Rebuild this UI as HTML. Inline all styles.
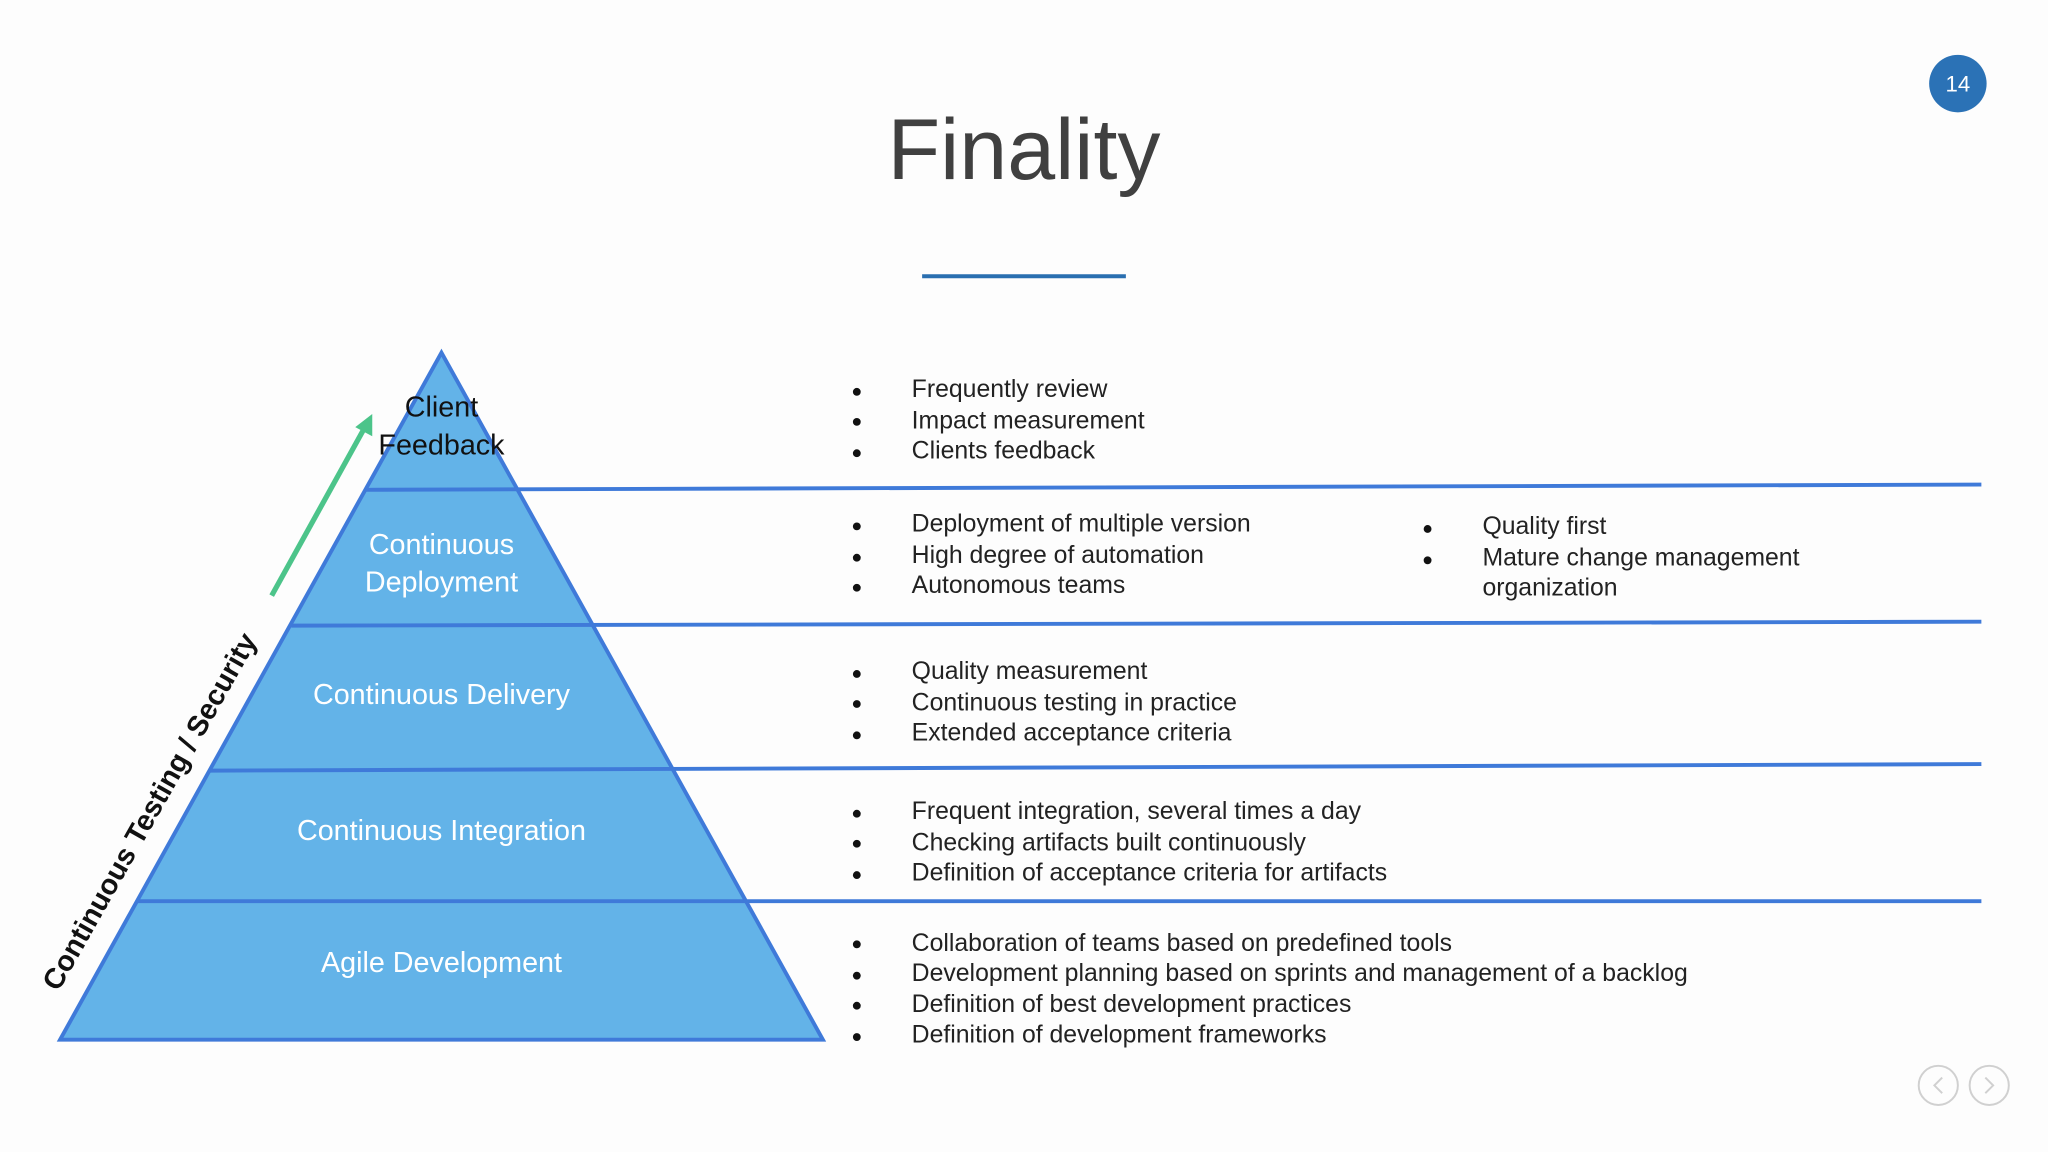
<!DOCTYPE html>
<html><head><meta charset="utf-8"><style>
html,body{margin:0;padding:0;background:#fff;}
svg{display:block;}
text{font-family:"Liberation Sans",sans-serif;}
</style></head><body>
<svg width="2048" height="1152" viewBox="0 0 1568 882" xmlns="http://www.w3.org/2000/svg">
<rect width="1568" height="882" fill="#fdfdfd"/>
<text x="784" y="137" font-size="66" fill="#404040" text-anchor="middle">Finality</text>
<line x1="706" y1="211.5" x2="862" y2="211.5" stroke="#2a6fb0" stroke-width="3"/>
<circle cx="1499" cy="64" r="22" fill="#2b72b6"/>
<text x="1499" y="70" font-size="17" fill="#fff" text-anchor="middle">14</text>

<polygon points="338,270 630,796 46,796" fill="#63b3e8" stroke="#3f7ad9" stroke-width="3" stroke-linejoin="miter"/>
<g stroke="#3f7ad9" stroke-width="3">
<line x1="280" y1="375" x2="1517" y2="371"/>
<line x1="223" y1="479" x2="1517" y2="476"/>
<line x1="161" y1="590" x2="1517" y2="585"/>
<line x1="105" y1="690" x2="1517" y2="690"/>
</g>
<g font-size="22" text-anchor="middle">
<text x="338" y="319" fill="#111">Client</text>
<text x="338" y="348" fill="#111">Feedback</text>
<text x="338" y="424" fill="#fff">Continuous</text>
<text x="338" y="453" fill="#fff">Deployment</text>
<text x="338" y="539" fill="#fff">Continuous Delivery</text>
<text x="338" y="643" fill="#fff">Continuous Integration</text>
<text x="338" y="744" fill="#fff">Agile Development</text>
</g>
<line x1="208" y1="456" x2="280" y2="326" stroke="#4cc48a" stroke-width="4"/>
<polygon points="285,317 285,334 272,327" fill="#4cc48a"/>
<text transform="translate(114,621) rotate(-60.5)" font-size="22" font-weight="bold" fill="#111" text-anchor="middle" dy="8">Continuous Testing / Security</text>

<g font-size="19" fill="#222">
<g fill="#111">
<circle cx="656" cy="300" r="3"/><circle cx="656" cy="323" r="3"/><circle cx="656" cy="347" r="3"/>
<circle cx="656" cy="403" r="3"/><circle cx="656" cy="427" r="3"/><circle cx="656" cy="450" r="3"/>
<circle cx="656" cy="516" r="3"/><circle cx="656" cy="539" r="3"/><circle cx="656" cy="563" r="3"/>
<circle cx="656" cy="623" r="3"/><circle cx="656" cy="646" r="3"/><circle cx="656" cy="670" r="3"/>
<circle cx="656" cy="723" r="3"/><circle cx="656" cy="747" r="3"/><circle cx="656" cy="770" r="3"/><circle cx="656" cy="794" r="3"/>
<circle cx="1093" cy="405" r="3"/><circle cx="1093" cy="429" r="3"/>
</g>
<text x="698" y="304">Frequently review</text>
<text x="698" y="328">Impact measurement</text>
<text x="698" y="351">Clients feedback</text>
<text x="698" y="407">Deployment of multiple version</text>
<text x="698" y="431">High degree of automation</text>
<text x="698" y="454">Autonomous teams</text>
<text x="1135" y="409">Quality first</text>
<text x="1135" y="433">Mature change management</text>
<text x="1135" y="456">organization</text>
<text x="698" y="520">Quality measurement</text>
<text x="698" y="544">Continuous testing in practice</text>
<text x="698" y="567">Extended acceptance criteria</text>
<text x="698" y="627">Frequent integration, several times a day</text>
<text x="698" y="651">Checking artifacts built continuously</text>
<text x="698" y="674">Definition of acceptance criteria for artifacts</text>
<text x="698" y="728">Collaboration of teams based on predefined tools</text>
<text x="698" y="751">Development planning based on sprints and management of a backlog</text>
<text x="698" y="775">Definition of best development practices</text>
<text x="698" y="798">Definition of development frameworks</text>
</g>
<g fill="none" stroke="#d0d0d0" stroke-width="1.5">
<circle cx="1484" cy="831" r="15"/><circle cx="1523" cy="831" r="15"/>
<polyline points="1487,825 1481,831 1487,837"/><polyline points="1520,825 1526,831 1520,837"/>
</g>
</svg>
</body></html>
